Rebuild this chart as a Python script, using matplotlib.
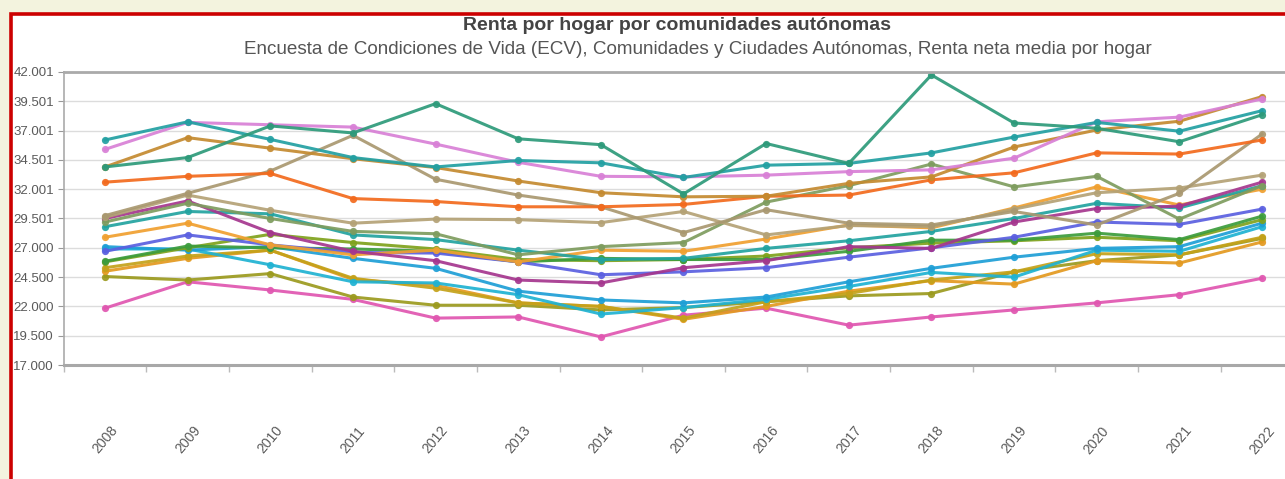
import matplotlib
matplotlib.use("Agg")
import matplotlib.pyplot as plt
from matplotlib.patches import Rectangle
from matplotlib.ticker import FixedLocator

years = ["2008", "2009", "2010", "2011", "2012", "2013", "2014", "2015",
         "2016", "2017", "2018", "2019", "2020", "2021", "2022"]

y_ticks = [17000, 19500, 22000, 24500, 27000, 29501, 32001, 34501, 37001, 39501, 42001]
y_tick_labels = ["17.000", "19.500", "22.000", "24.500", "27.000", "29.501",
                 "32.001", "34.501", "37.001", "39.501", "42.001"]

# values in euros
s_tealgreen = [33900, 34700, 37400, 36800, 39300, 36300, 35800, 31600, 35900, 34200, 41750, 37650, 37200, 36050, 38350]
s_teal = [36200, 37750, 36250, 34700, 33900, 34450, 34250, 33000, 34050, 34200, 35100, 36450, 37700, 36950, 38700]
s_orchid = [35400, 37700, 37500, 37300, 35850, 34300, 33100, 33050, 33200, 33500, 33650, 34650, 37750, 38150, 39700]
s_brownorange = [33900, 36400, 35500, 34600, 33850, 32700, 31700, 31350, 31400, 32500, 33050, 35600, 37050, 37800, 39900]
s_orange = [32600, 33100, 33350, 31200, 30950, 30500, 30500, 30700, 31400, 31500, 32800, 33400, 35100, 35000, 36200]
s_tan1 = [29750, 31650, 33550, 36600, 32850, 31500, 30500, 28300, 30250, 29100, 28950, 30100, 28950, 31650, 36700]
s_tan2 = [29600, 31500, 30200, 29100, 29450, 29400, 29150, 30100, 28100, 28900, 28800, 30300, 31700, 32100, 33200]
s_sage = [29200, 30800, 29500, 28400, 28200, 26400, 27100, 27450, 30900, 32300, 34150, 32200, 33100, 29450, 32300]
s_magenta = [29500, 31000, 28300, 26700, 25900, 24250, 24000, 25300, 25900, 27100, 26950, 29200, 30350, 30550, 32600]
s_teal3 = [28800, 30100, 29900, 28100, 27700, 26800, 26000, 26100, 26950, 27600, 28400, 29500, 30800, 30400, 32300]
s_orange2 = [27900, 29100, 27250, 26400, 26800, 25800, 26800, 26700, 27750, 28950, 28700, 30400, 32200, 30650, 32000]
s_blue = [26700, 28100, 27250, 26600, 26550, 25800, 24700, 24950, 25300, 26200, 27000, 27900, 29200, 29000, 30300]
s_green = [25850, 27150, 27000, 26900, 26700, 25800, 26100, 26000, 26000, 26700, 27650, 27650, 28250, 27700, 29700]
s_olivegreen = [25800, 27000, 28150, 27450, 26900, 26000, 25900, 26000, 26300, 27000, 27400, 27600, 27900, 27600, 29400]
s_cyan1 = [27100, 26800, 27100, 26100, 25250, 23300, 22550, 22300, 22800, 24100, 25250, 26200, 26950, 27100, 29100]
s_cyan2 = [26900, 26900, 25550, 24100, 24000, 23000, 21350, 21900, 22600, 23700, 24900, 24500, 26800, 26700, 28800]
s_gold = [25300, 26300, 26800, 24400, 23550, 22300, 22000, 21000, 22400, 23100, 24250, 24950, 26500, 26400, 27900]
s_orange3 = [25000, 26100, 26800, 24300, 23800, 22300, 22000, 20900, 22000, 23300, 24200, 23900, 25900, 25700, 27500]
s_olive = [24550, 24250, 24800, 22800, 22100, 22100, 21700, 21900, 22400, 22900, 23100, 24950, 25900, 26400, 27800]
s_pink = [21850, 24100, 23400, 22600, 21000, 21100, 19400, 21250, 21850, 20400, 21100, 21700, 22300, 23000, 24400]

series = [
    (s_pink, "#e056b0"),
    (s_olive, "#9b9a1e"),
    (s_orange3, "#e3991f"),
    (s_gold, "#c4a21a"),
    (s_cyan2, "#1fb2d2"),
    (s_cyan1, "#1e9fd6"),
    (s_olivegreen, "#7fa21c"),
    (s_green, "#3c9c3c"),
    (s_blue, "#5a5fe0"),
    (s_orange2, "#f0a030"),
    (s_teal3, "#22a3a0"),
    (s_magenta, "#a5368e"),
    (s_sage, "#7e9c5e"),
    (s_tan2, "#b4a276"),
    (s_tan1, "#a99870"),
    (s_orange, "#f26a1d"),
    (s_brownorange, "#c48a30"),
    (s_orchid, "#d880d6"),
    (s_teal, "#22a0a2"),
    (s_tealgreen, "#2d9a7a"),
]

W, H = 1285, 479
fig = plt.figure(figsize=(W / 100, H / 100), dpi=100)
fig.patch.set_facecolor("#f3f3de")

# white panel with red border (drawn behind everything)
bg = fig.add_axes([0, 0, 1, 1], zorder=-10)
bg.set_xlim(0, W)
bg.set_ylim(H, 0)
bg.axis("off")
bg.add_patch(Rectangle((10.5, 13.5), W + 50, H + 50, facecolor="white",
                       edgecolor="#cc0000", linewidth=2.6))

left_px, right_px, top_px, bot_px = 63.7, 1303.3, 72, 365
ax = fig.add_axes([left_px / W, (H - bot_px) / H, (right_px - left_px) / W, (bot_px - top_px) / H],
                  zorder=5)
ax.patch.set_alpha(0)

x = list(range(len(years)))
for vals, col in series:
    ax.plot(x, vals, color=col, linewidth=2.2, marker="o", markersize=5.2,
            markeredgewidth=0, alpha=0.92, solid_joinstyle="round")

ax.set_xlim(-0.5, len(years) - 0.5)
ax.set_ylim(17000, 42001)
ax.set_yticks(y_ticks)
ax.set_yticklabels(y_tick_labels)
ax.grid(axis="y", color="#dcdcdc", linewidth=1.0)
ax.set_axisbelow(True)

ax.xaxis.set_major_locator(FixedLocator(x))
ax.set_xticklabels(years)
ax.xaxis.set_minor_locator(FixedLocator([i + 0.5 for i in range(-1, len(years))]))
ax.tick_params(axis="x", which="major", length=0, pad=54, labelsize=10, labelcolor="#5a5a5a")
ax.tick_params(axis="x", which="minor", length=5, color="#bbbbbb", width=1)
for lbl in ax.get_xticklabels():
    lbl.set_rotation(50)
    lbl.set_ha("center")
    lbl.set_va("center")
    lbl.set_family("Liberation Sans")

ax.tick_params(axis="y", length=4, color="#999999", labelsize=9.5, labelcolor="#5a5a5a", pad=3)
for lbl in ax.get_yticklabels():
    lbl.set_family("Liberation Sans")

ax.spines["right"].set_visible(False)
ax.spines["left"].set_color("#aaaaaa")
ax.spines["left"].set_linewidth(1.2)
ax.spines["bottom"].set_color("#a8a8a8")
ax.spines["bottom"].set_linewidth(2.2)
ax.spines["top"].set_color("#aaaaaa")
ax.spines["top"].set_linewidth(2.0)

fig.text(677 / W, 1 - 29.5 / H, "Renta por hogar por comunidades autónomas",
         ha="center", va="baseline", fontsize=14, fontweight="bold",
         color="#444444", family="Liberation Sans", zorder=6)
fig.text(698 / W, 1 - 54 / H,
         "Encuesta de Condiciones de Vida (ECV), Comunidades y Ciudades Autónomas, Renta neta media por hogar",
         ha="center", va="baseline", fontsize=13.6, color="#555555", family="Liberation Sans", zorder=6)

fig.savefig("out.png", dpi=100, facecolor=fig.get_facecolor())
